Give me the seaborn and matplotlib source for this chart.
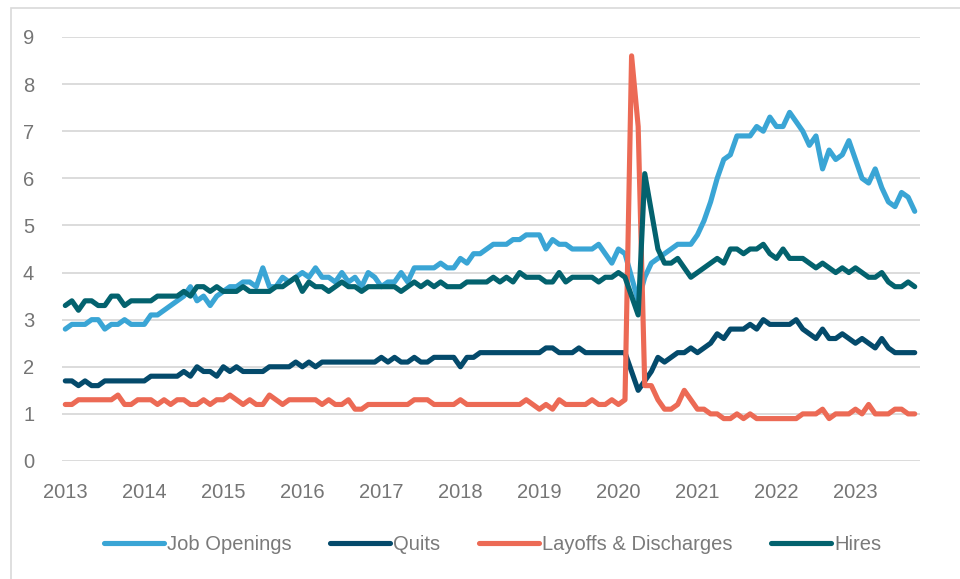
import numpy as np
import pandas as pd
import seaborn as sns
import matplotlib.pyplot as plt
from matplotlib.lines import Line2D
from matplotlib.patches import Rectangle

# monthly rates, Jan 2013 - Oct 2023
months = pd.date_range("2013-01-01", "2023-10-01", freq="MS")

job_openings = [
    2.8, 2.9, 2.9, 2.9, 3.0, 3.0, 2.8, 2.9, 2.9, 3.0, 2.9, 2.9,  # 2013
    2.9, 3.1, 3.1, 3.2, 3.3, 3.4, 3.5, 3.7, 3.4, 3.5, 3.3, 3.5,  # 2014
    3.6, 3.7, 3.7, 3.8, 3.8, 3.7, 4.1, 3.7, 3.7, 3.9, 3.8, 3.9,  # 2015
    4.0, 3.9, 4.1, 3.9, 3.9, 3.8, 4.0, 3.8, 3.9, 3.7, 4.0, 3.9,  # 2016
    3.7, 3.8, 3.8, 4.0, 3.8, 4.1, 4.1, 4.1, 4.1, 4.2, 4.1, 4.1,  # 2017
    4.3, 4.2, 4.4, 4.4, 4.5, 4.6, 4.6, 4.6, 4.7, 4.7, 4.8, 4.8,  # 2018
    4.8, 4.5, 4.7, 4.6, 4.6, 4.5, 4.5, 4.5, 4.5, 4.6, 4.4, 4.2,  # 2019
    4.5, 4.4, 3.9, 3.4, 3.9, 4.2, 4.3, 4.4, 4.5, 4.6, 4.6, 4.6,  # 2020
    4.8, 5.1, 5.5, 6.0, 6.4, 6.5, 6.9, 6.9, 6.9, 7.1, 7.0, 7.3,  # 2021
    7.1, 7.1, 7.4, 7.2, 7.0, 6.7, 6.9, 6.2, 6.6, 6.4, 6.5, 6.8,  # 2022
    6.4, 6.0, 5.9, 6.2, 5.8, 5.5, 5.4, 5.7, 5.6, 5.3,            # 2023
]

quits = [
    1.7, 1.7, 1.6, 1.7, 1.6, 1.6, 1.7, 1.7, 1.7, 1.7, 1.7, 1.7,
    1.7, 1.8, 1.8, 1.8, 1.8, 1.8, 1.9, 1.8, 2.0, 1.9, 1.9, 1.8,
    2.0, 1.9, 2.0, 1.9, 1.9, 1.9, 1.9, 2.0, 2.0, 2.0, 2.0, 2.1,
    2.0, 2.1, 2.0, 2.1, 2.1, 2.1, 2.1, 2.1, 2.1, 2.1, 2.1, 2.1,
    2.2, 2.1, 2.2, 2.1, 2.1, 2.2, 2.1, 2.1, 2.2, 2.2, 2.2, 2.2,
    2.0, 2.2, 2.2, 2.3, 2.3, 2.3, 2.3, 2.3, 2.3, 2.3, 2.3, 2.3,
    2.3, 2.4, 2.4, 2.3, 2.3, 2.3, 2.4, 2.3, 2.3, 2.3, 2.3, 2.3,
    2.3, 2.3, 1.9, 1.5, 1.7, 1.9, 2.2, 2.1, 2.2, 2.3, 2.3, 2.4,
    2.3, 2.4, 2.5, 2.7, 2.6, 2.8, 2.8, 2.8, 2.9, 2.8, 3.0, 2.9,
    2.9, 2.9, 2.9, 3.0, 2.8, 2.7, 2.6, 2.8, 2.6, 2.6, 2.7, 2.6,
    2.5, 2.6, 2.5, 2.4, 2.6, 2.4, 2.3, 2.3, 2.3, 2.3,
]

layoffs = [
    1.2, 1.2, 1.3, 1.3, 1.3, 1.3, 1.3, 1.3, 1.4, 1.2, 1.2, 1.3,
    1.3, 1.3, 1.2, 1.3, 1.2, 1.3, 1.3, 1.2, 1.2, 1.3, 1.2, 1.3,
    1.3, 1.4, 1.3, 1.2, 1.3, 1.2, 1.2, 1.4, 1.3, 1.2, 1.3, 1.3,
    1.3, 1.3, 1.3, 1.2, 1.3, 1.2, 1.2, 1.3, 1.1, 1.1, 1.2, 1.2,
    1.2, 1.2, 1.2, 1.2, 1.2, 1.3, 1.3, 1.3, 1.2, 1.2, 1.2, 1.2,
    1.3, 1.2, 1.2, 1.2, 1.2, 1.2, 1.2, 1.2, 1.2, 1.2, 1.3, 1.2,
    1.1, 1.2, 1.1, 1.3, 1.2, 1.2, 1.2, 1.2, 1.3, 1.2, 1.2, 1.3,
    1.2, 1.3, 8.6, 7.1, 1.6, 1.6, 1.3, 1.1, 1.1, 1.2, 1.5, 1.3,
    1.1, 1.1, 1.0, 1.0, 0.9, 0.9, 1.0, 0.9, 1.0, 0.9, 0.9, 0.9,
    0.9, 0.9, 0.9, 0.9, 1.0, 1.0, 1.0, 1.1, 0.9, 1.0, 1.0, 1.0,
    1.1, 1.0, 1.2, 1.0, 1.0, 1.0, 1.1, 1.1, 1.0, 1.0,
]

hires = [
    3.3, 3.4, 3.2, 3.4, 3.4, 3.3, 3.3, 3.5, 3.5, 3.3, 3.4, 3.4,
    3.4, 3.4, 3.5, 3.5, 3.5, 3.5, 3.6, 3.5, 3.7, 3.7, 3.6, 3.7,
    3.6, 3.6, 3.6, 3.7, 3.6, 3.6, 3.6, 3.6, 3.7, 3.7, 3.8, 3.9,
    3.6, 3.8, 3.7, 3.7, 3.6, 3.7, 3.8, 3.7, 3.7, 3.6, 3.7, 3.7,
    3.7, 3.7, 3.7, 3.6, 3.7, 3.8, 3.7, 3.8, 3.7, 3.8, 3.7, 3.7,
    3.7, 3.8, 3.8, 3.8, 3.8, 3.9, 3.8, 3.9, 3.8, 4.0, 3.9, 3.9,
    3.9, 3.8, 3.8, 4.0, 3.8, 3.9, 3.9, 3.9, 3.9, 3.8, 3.9, 3.9,
    4.0, 3.9, 3.5, 3.1, 6.1, 5.3, 4.5, 4.2, 4.2, 4.3, 4.1, 3.9,
    4.0, 4.1, 4.2, 4.3, 4.2, 4.5, 4.5, 4.4, 4.5, 4.5, 4.6, 4.4,
    4.3, 4.5, 4.3, 4.3, 4.3, 4.2, 4.1, 4.2, 4.1, 4.0, 4.1, 4.0,
    4.1, 4.0, 3.9, 3.9, 4.0, 3.8, 3.7, 3.7, 3.8, 3.7,
]

series_names = ["Job Openings", "Quits", "Layoffs & Discharges", "Hires"]
colors = ["#3aa5d5", "#044a6b", "#ec6a55", "#03626e"]
years = list(range(2013, 2024))

frames = []
for name, vals in zip(series_names, [job_openings, quits, layoffs, hires]):
    frames.append(pd.DataFrame({"month": np.arange(len(months)), "rate": vals, "series": name}))
df = pd.concat(frames, ignore_index=True)

sns.set_theme(style="white")
plt.rcParams["font.family"] = ["Liberation Sans", "DejaVu Sans"]

fig = plt.figure(figsize=(9.6, 5.79), dpi=100)
ax = fig.add_axes([62 / 960, 1 - 461 / 579, (920 - 62) / 960, (461 - 37) / 579])

sns.lineplot(data=df, x="month", y="rate", hue="series", hue_order=series_names,
             palette=dict(zip(series_names, colors)), linewidth=3.7, ax=ax,
             legend=False, solid_joinstyle="round", solid_capstyle="round")

ax.set_xlim(-0.5, 129.8)
ax.set_ylim(0, 9)
ax.set_yticks(range(0, 10))
ax.set_xticks([12 * i for i in range(len(years))])
ax.set_xticklabels([str(y) for y in years])
ax.set_xlabel("")
ax.set_ylabel("")
ax.grid(axis="y", color="#d9d9d9", linewidth=1.3)
ax.grid(axis="x", visible=False)
ax.set_axisbelow(True)
for s in ax.spines.values():
    s.set_visible(False)
ax.tick_params(axis="both", length=0, labelsize=14.5, colors="#757575")
ax.tick_params(axis="y", pad=20)
ax.tick_params(axis="x", pad=16)

handles = [Line2D([0], [0], color=c, linewidth=3.7, solid_capstyle="round") for c in colors]
fig.legend(handles, series_names, loc="center", bbox_to_anchor=(0.513, 1 - 545 / 579),
           ncol=4, frameon=False, fontsize=14.5, labelcolor="#7a7a7a",
           handlelength=3.0, handletextpad=0.15, columnspacing=1.9)

# chart area border (partly cropped in the original)
fig.patches.append(Rectangle((11 / 960, -0.1), 1.2, 1 - 8 / 579 + 0.1, transform=fig.transFigure,
                             fill=False, edgecolor="#d9d9d9", linewidth=1.2))

fig.savefig("out.png", dpi=100)
